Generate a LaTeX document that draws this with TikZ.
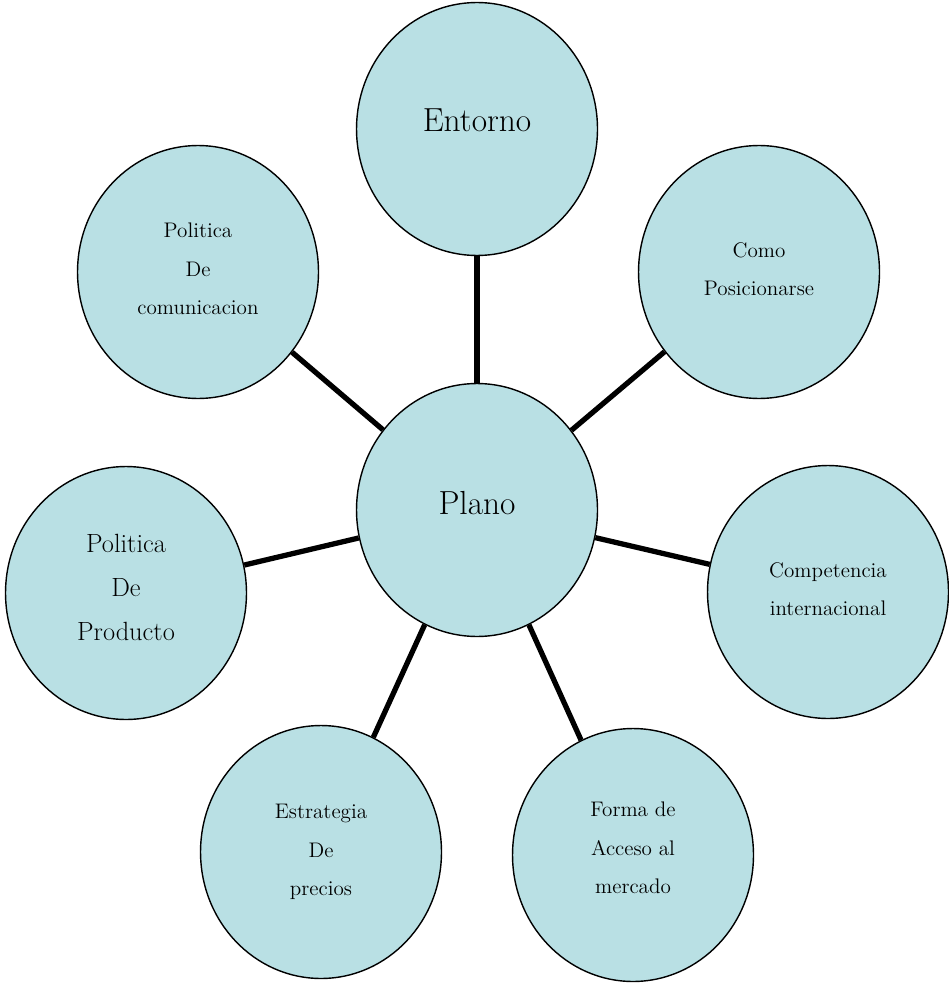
\documentclass[tikz,border=0pt]{standalone}
\usetikzlibrary{shapes.geometric}
\definecolor{bubble}{RGB}{185,224,228}
\begin{document}
\begin{tikzpicture}[x=0.02cm,y=-0.02cm]

\tikzset{vertex/.style = {shape=ellipse,draw,line width=0.8pt,fill=bubble,minimum width=4.82cm,minimum height=5.06cm,inner sep=0pt,align=center}}
\tikzset{small/.style = {font=\fontsize{12}{22}\selectfont}}
\tikzset{big/.style = {font=\fontsize{19}{22}\selectfont}}
\tikzset{lift/.style = {text depth=#1}}
\tikzset{link/.style = {line width=3pt}}
\useasboundingbox (0,0) rectangle (948,983);
%verticies
\node[vertex, big, lift=8pt] (0) at (477,510) {Plano};
\node[vertex, big, lift=10pt] (1) at (477,129) {Entorno};
\node[vertex, small, lift=3.4pt] (2) at (759,272) {Como\\Posicionarse};
\node[vertex, small, lift=3.4pt] (3) at (828,592) {Competencia\\internacional};
\node[vertex, small, lift=8pt] (4) at (633,855) {Forma de\\Acceso al\\mercado};
\node[vertex, small] (5) at (321,852) {Estrategia\\De\\precios};
\node[vertex, font=\fontsize{15}{25}\selectfont, lift=6pt] (6) at (126,593) {Politica\\De\\Producto};
\node[vertex, small, lift=3.4pt] (7) at (198,272) {Politica\\De\\comunicacion};
%edges
\foreach \i in {1,...,7} \draw[link] (0) -- (\i);

\end{tikzpicture}
\end{document}
